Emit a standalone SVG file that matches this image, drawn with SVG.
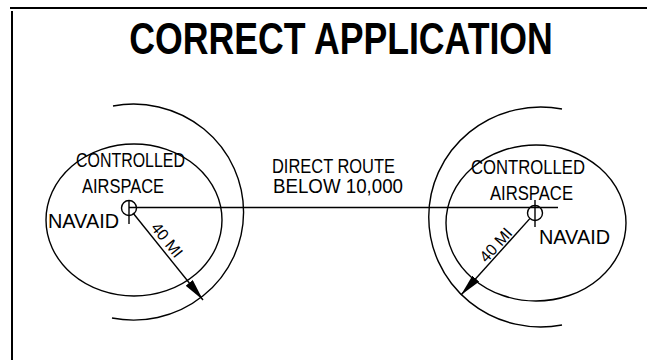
<svg xmlns="http://www.w3.org/2000/svg" width="647" height="360" viewBox="0 0 647 360">
<style>
.ln{fill:none;stroke:#000;stroke-width:1.4}
.bd{fill:none;stroke:#000;stroke-width:2}
.lb{font-family:"Liberation Sans",Arial,sans-serif;font-size:20px;fill:#000}
.sm{font-family:"Liberation Sans",Arial,sans-serif;font-size:16px;fill:#000}
.tt{font-family:"Liberation Sans",Arial,sans-serif;font-size:44px;font-weight:bold;fill:#000}
</style>
<defs>
<marker id="ah" markerUnits="userSpaceOnUse" viewBox="0 0 22 9" refX="22" refY="4.5" markerWidth="22" markerHeight="9" orient="auto">
<path d="M0,0 L22,4.5 L0,9 Z" fill="#000"/>
</marker>
</defs>
<rect width="647" height="360" fill="#fff"/>
<g id="frame">
<path class="bd" d="M10,8 H647"/>
<path class="bd" d="M12,11 V360"/>
</g>
<g id="title">
<text class="tt" text-anchor="middle" transform="translate(341,54) scale(0.81,1)">CORRECT APPLICATION</text>
</g>
<g id="left-airspace">
<ellipse class="ln" cx="134" cy="220" rx="88" ry="76"/>
<path class="ln" d="M113,106 A110,108 0 1,1 112,318"/>
<text class="lb" x="76" y="167" textLength="109" lengthAdjust="spacingAndGlyphs">CONTROLLED</text>
<text class="lb" x="82" y="193" textLength="82" lengthAdjust="spacingAndGlyphs">AIRSPACE</text>
</g>
<g id="left-navaid">
<circle class="ln" cx="129" cy="208" r="7.5"/>
<path class="ln" d="M129,200 V224"/>
<text class="lb" x="48" y="228" textLength="71" lengthAdjust="spacingAndGlyphs">NAVAID</text>
</g>
<g id="right-airspace">
<ellipse class="ln" cx="536" cy="223" rx="90" ry="78"/>
<path class="ln" d="M562,109 A112,110 0 1,0 562,325"/>
<text class="lb" x="471" y="174" textLength="114" lengthAdjust="spacingAndGlyphs">CONTROLLED</text>
<text class="lb" x="490" y="200" textLength="83" lengthAdjust="spacingAndGlyphs">AIRSPACE</text>
</g>
<g id="right-navaid">
<circle class="ln" cx="535" cy="213" r="7.5"/>
<path class="ln" d="M535,200 V227"/>
<text class="lb" x="539" y="244" textLength="71" lengthAdjust="spacingAndGlyphs">NAVAID</text>
</g>
<g id="connectors">
<path class="ln" d="M129,207.5 H558" stroke-width="1.6"/>
<path class="ln" d="M133,213 L203,300" marker-end="url(#ah)"/>
<path class="ln" d="M529.6,218.9 L461,295" marker-end="url(#ah)"/>
</g>
<g id="labels">
<text class="lb" x="272" y="173" textLength="123" lengthAdjust="spacingAndGlyphs">DIRECT ROUTE</text>
<text class="lb" x="273" y="193" textLength="130" lengthAdjust="spacingAndGlyphs">BELOW 10,000</text>
<text class="sm" text-anchor="middle" transform="translate(162.8,243.5) rotate(51)">40 MI</text>
<text class="sm" text-anchor="middle" transform="translate(499.9,248.6) rotate(-48)">40 MI</text>
</g>
</svg>
